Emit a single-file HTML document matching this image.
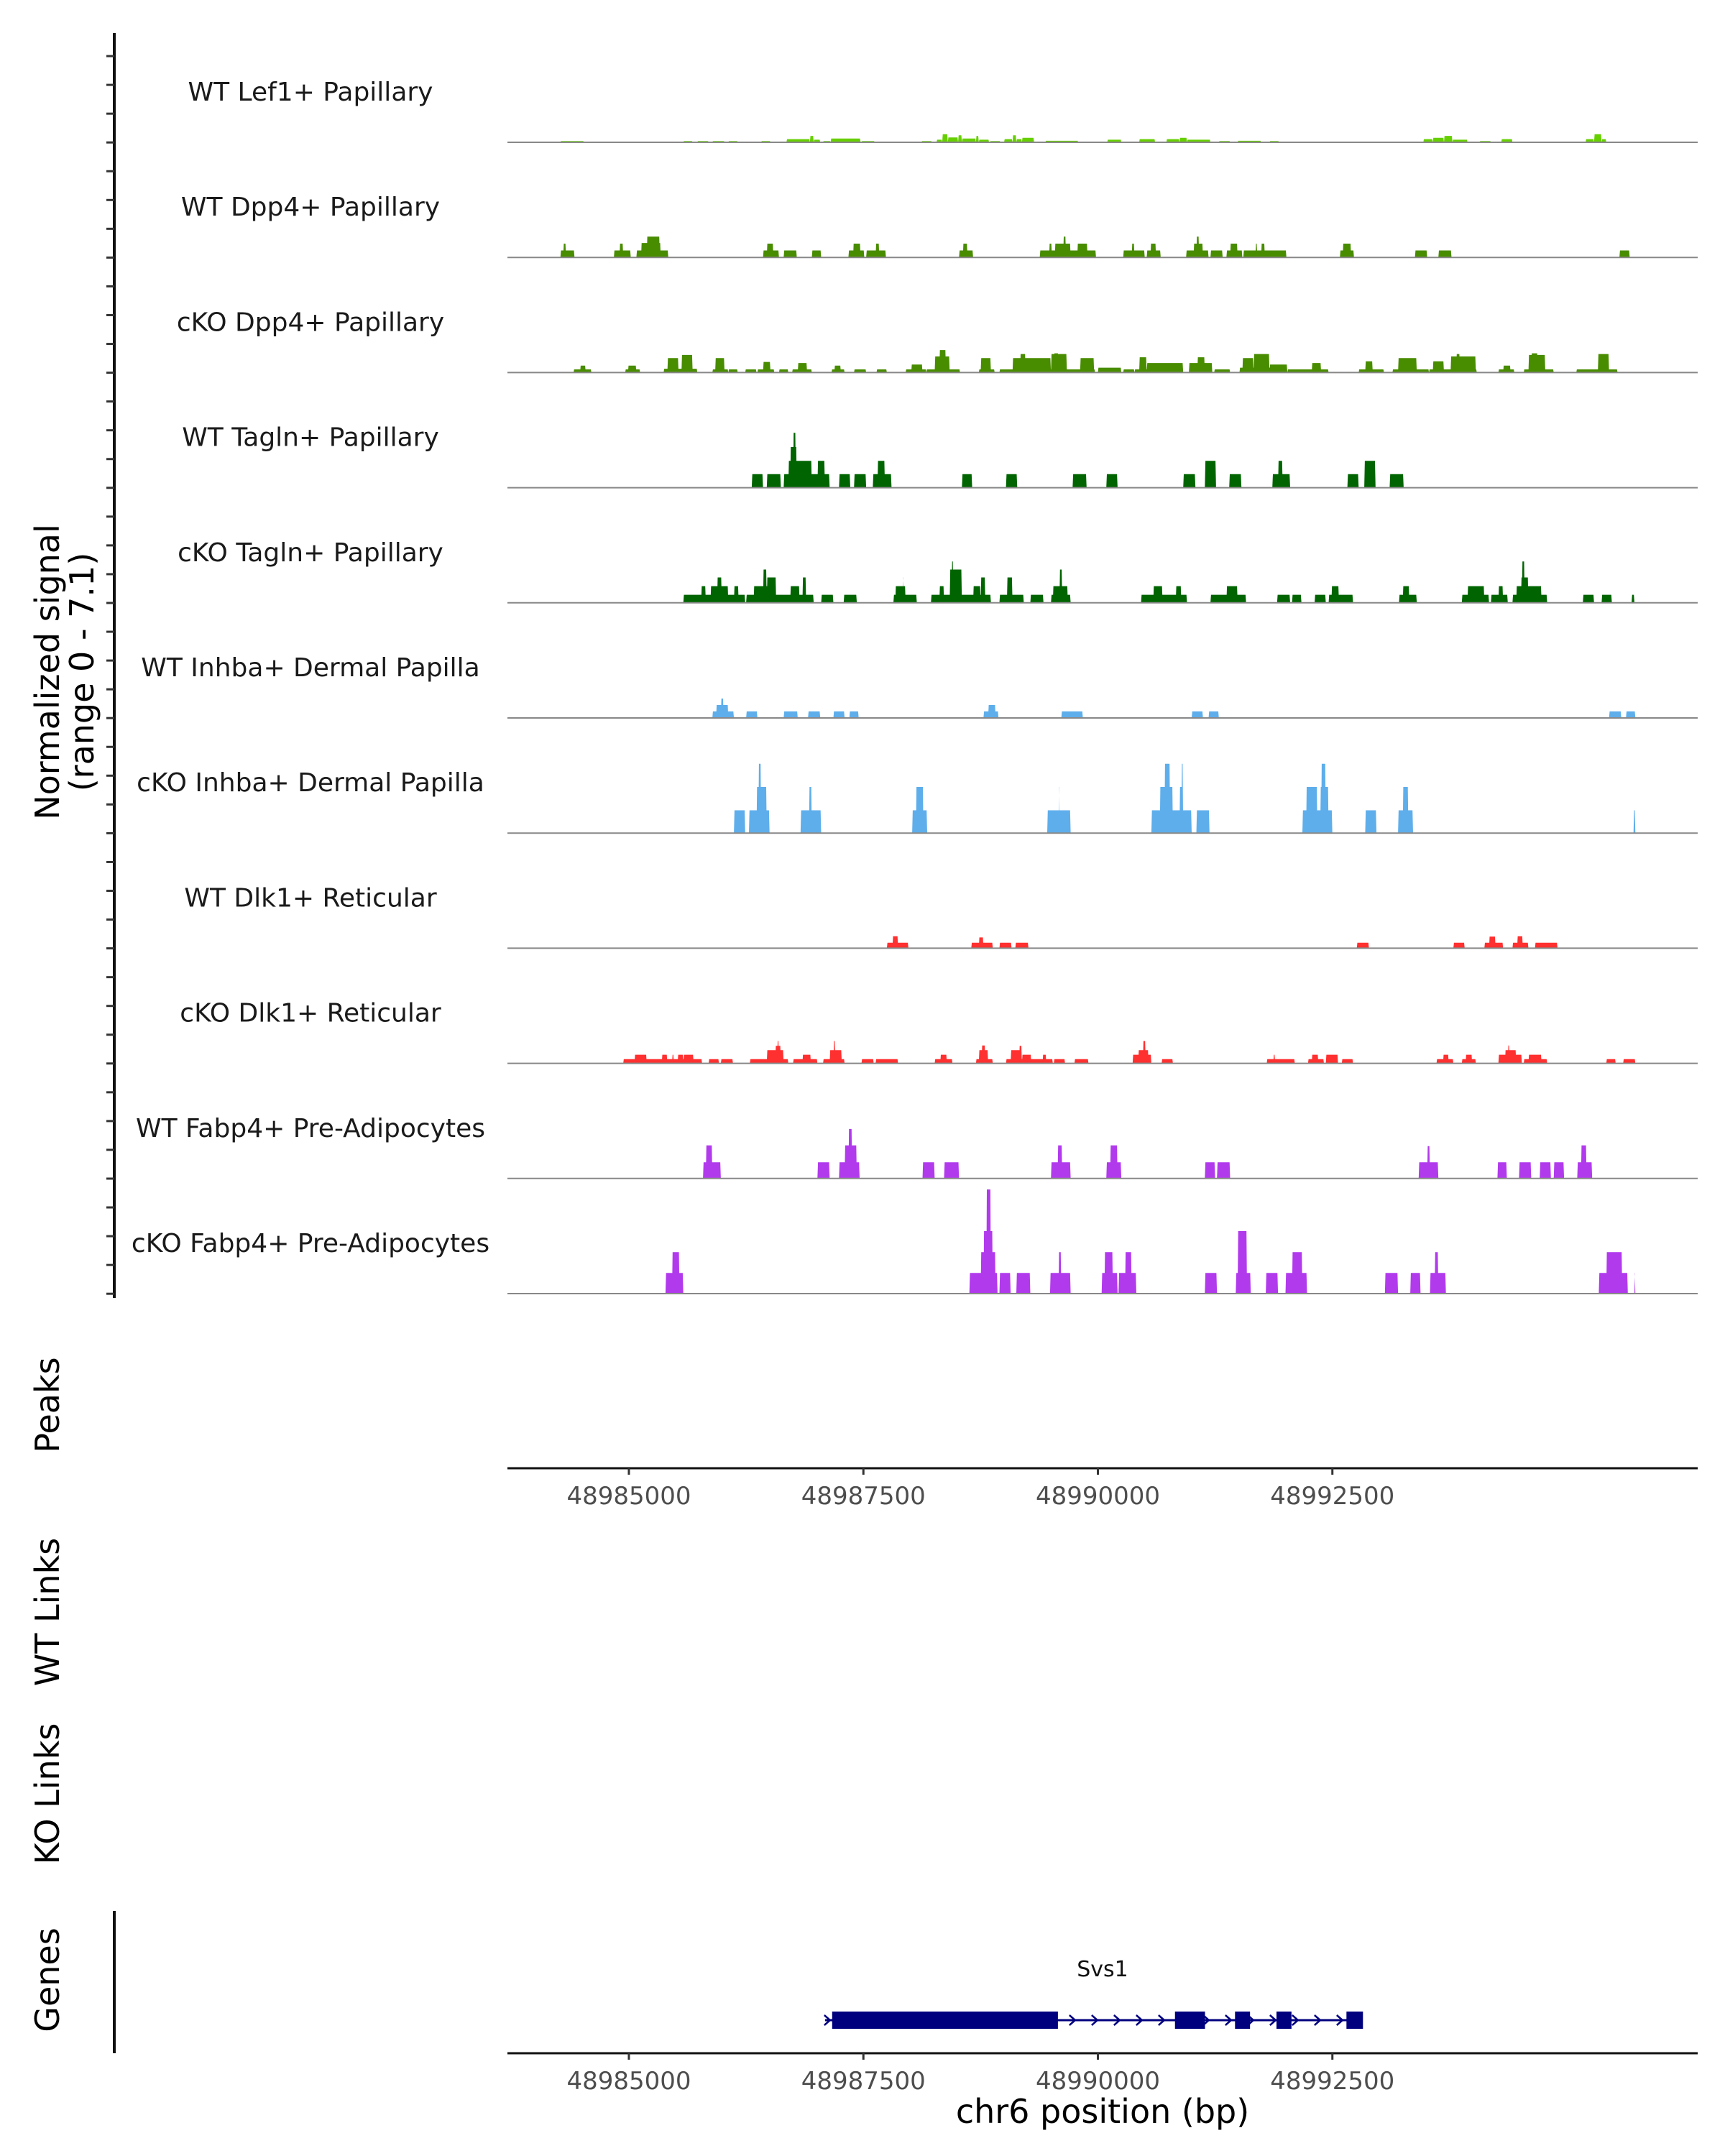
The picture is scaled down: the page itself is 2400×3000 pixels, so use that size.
<!DOCTYPE html>
<html><head><meta charset="utf-8">
<style>
html,body{margin:0;padding:0;background:#fff;}
svg{display:block;font-family:"DejaVu Sans","Liberation Sans",sans-serif;}
</style></head>
<body>
<svg id="fig" width="2400" height="3000" viewBox="0 0 2400 3000" xmlns="http://www.w3.org/2000/svg">
<g id="tracks"></g>
<g id="leftaxis"></g>
<text transform="translate(82,935) rotate(-90)" text-anchor="middle" font-size="46" fill="#000">Normalized signal</text>
<text transform="translate(130,935) rotate(-90)" text-anchor="middle" font-size="46" fill="#000">(range 0 - 7.1)</text>
<text transform="translate(82,1955) rotate(-90)" text-anchor="middle" font-size="46">Peaks</text>
<text transform="translate(82,2243) rotate(-90)" text-anchor="middle" font-size="46">WT Links</text>
<text transform="translate(82,2496) rotate(-90)" text-anchor="middle" font-size="46">KO Links</text>
<text transform="translate(82,2755) rotate(-90)" text-anchor="middle" font-size="46">Genes</text>
<g id="xaxis1"></g>
<g id="genes"></g>
<g id="xaxis2"></g>
<text x="1534" y="2954" text-anchor="middle" font-size="46">chr6 position (bp)</text>
</svg>
<script>
const regionStart = 48983650;
const regionEnd = 48996308;
const yMaxSignal = 7.1;
const trackNames = ["WT Lef1+ Papillary","WT Dpp4+ Papillary","cKO Dpp4+ Papillary","WT Tagln+ Papillary","cKO Tagln+ Papillary","WT Inhba+ Dermal Papilla","cKO Inhba+ Dermal Papilla","WT Dlk1+ Reticular","cKO Dlk1+ Reticular","WT Fabp4+ Pre-Adipocytes","cKO Fabp4+ Pre-Adipocytes"];
const trackColors = ["#66cf00","#488c00","#488c00","#006400","#006400","#5eaeeb","#5eaeeb","#ff3030","#ff3030","#b23aed","#b23aed"];
const xTicks = [48985000,48987500,48990000,48992500];
// blocks: [offset start bp, offset end bp, signal]
const wtLef1 = [[620,870,.08],[1930,2030,.08],[2080,2200,.08],[2240,2370,.08],[2410,2510,.08],[2760,2860,.08],[3030,3280,.21],[3280,3320,.42],[3320,3390,.17],[3420,3500,.08],[3500,3820,.25],[3830,3970,.08],[4470,4580,.08],[4630,4690,.17],[4690,4750,.53],[4750,4860,.32],[4860,4900,.46],[4900,5050,.25],[5050,5080,.42],[5080,5190,.17],[5200,5310,.08],[5350,5440,.21],[5440,5480,.46],[5480,5540,.21],[5540,5670,.3],[5790,6140,.1],[6450,6600,.17],[6790,6960,.21],[7080,7220,.21],[7220,7300,.3],[7300,7550,.17],[7640,7760,.08],[7840,8090,.1],[8180,8280,.08],[9820,9920,.21],[9920,10040,.3],[10040,10130,.42],[10130,10290,.17],[10420,10540,.08],[10650,10770,.21],[11550,11640,.21],[11640,11720,.53],[11720,11770,.21]];
const wtDpp4 = [[620,770,.46],[650,680,.91],[1190,1370,.46],[1250,1290,.91],[1430,1770,.46],[1480,1690,.95],[1540,1680,1.37],[2780,2950,.46],[2820,2890,.91],[3000,3140,.46],[3300,3400,.46],[3690,3860,.46],[3740,3820,.91],[3880,4090,.46],[3980,4020,.91],[4870,5020,.46],[4910,4960,.91],[5730,6330,.46],[5830,5860,.91],[5890,6060,.91],[5980,6010,1.37],[6130,6240,.91],[6620,6850,.46],[6710,6740,.91],[6870,7020,.46],[6910,6970,.91],[7290,7530,.46],[7370,7470,.91],[7400,7430,1.37],[7550,7680,.46],[7720,7890,.46],[7760,7840,.91],[7900,8360,.46],[8030,8050,.91],[8090,8130,.91],[8930,9080,.46],[8960,9050,.91],[9730,9860,.46],[9980,10120,.46],[11910,12020,.46]];
const koDpp4 = [[760,950,.21],[830,890,.46],[1310,1470,.21],[1340,1430,.46],[1720,2080,.25],[1760,1880,.95],[1910,2030,1.16],[2240,2410,.21],[2270,2370,.95],[2410,2510,.21],[2590,2710,.21],[2720,2900,.21],[2780,2860,.7],[2950,3050,.21],[3090,3300,.21],[3150,3250,.63],[3510,3650,.21],[3540,3610,.46],[3750,3880,.21],[3990,4100,.21],[4300,4520,.21],[4360,4480,.53],[4520,4880,.21],[4610,4770,1.06],[4660,4730,1.48],[5080,5250,.21],[5100,5210,.95],[5300,6320,.21],[5440,5850,.95],[5520,5580,1.22],[5850,6020,1.22],[5880,5930,1.27],[6160,6310,.95],[6350,6600,.32],[6620,6740,.21],[6740,7150,.21],[6790,6870,1.01],[6870,7260,.63],[7320,7570,.63],[7410,7490,1.01],[7590,7760,.21],[7860,8370,.32],[7890,8010,.95],[8010,8180,1.22],[8180,8370,.53],[8370,8810,.21],[8630,8730,.63],[9130,9400,.21],[9200,9280,.74],[9490,9880,.21],[9550,9750,.95],[9880,10390,.21],[9920,10040,.74],[10110,10380,1.06],[10170,10210,1.22],[10620,10790,.21],[10670,10750,.46],[10890,11210,.21],[10940,11120,1.16],[10970,11040,1.27],[11450,11890,.21],[11680,11800,1.22]];
const wtTagln = [[2660,2780,.89],[2820,2970,.89],[3000,3490,.89],[3050,3300,1.77],[3070,3140,2.68],[3100,3130,3.61],[3360,3440,1.77],[3590,3710,.89],[3750,3880,.89],[3950,4150,.89],[4000,4080,1.77],[4900,5010,.89],[5370,5490,.89],[6080,6230,.89],[6440,6560,.89],[7260,7390,.89],[7490,7610,1.77],[7750,7880,.89],[8210,8400,.89],[8270,8320,1.77],[9010,9130,.89],[9190,9310,1.77],[9460,9610,.89]];
const koTagln = [[1930,2590,.53],[2120,2170,1.1],[2220,2410,1.1],[2290,2340,1.67],[2470,2520,1.1],[2600,3320,.53],[2680,2860,1.1],[2780,2820,2.19],[2820,2920,1.67],[3070,3170,1.1],[3200,3240,1.67],[3400,3530,.53],[3640,3780,.53],[4170,4420,.53],[4190,4300,1.1],[4270,4280,1.67],[4570,5210,.53],[4660,4710,1.1],[4770,4900,2.19],[4790,4810,2.72],[5020,5100,1.1],[5100,5150,1.67],[5300,5560,.53],[5380,5440,1.67],[5630,5770,.53],[5850,6060,.53],[5870,6030,1.1],[5940,5970,2.19],[6810,7300,.53],[6940,7040,1.1],[7180,7240,1.1],[7550,7930,.53],[7720,7840,1.1],[8260,8400,.53],[8420,8520,.53],[8660,8780,.53],[8810,9070,.53],[8840,8920,1.1],[9560,9750,.53],[9600,9670,1.1],[10230,10520,.53],[10290,10470,1.1],[10540,10720,.53],[10620,10670,1.1],[10770,11140,.53],[10810,11080,1.1],[10860,10940,1.67],[10870,10900,2.72],[11520,11640,.53],[11720,11830,.53],[12040,12070,.53]];
const wtInhba = [[2240,2470,.43],[2280,2410,.85],[2330,2360,1.28],[2600,2720,.43],[3000,3150,.43],[3260,3390,.43],[3530,3650,.43],[3700,3800,.43],[5130,5290,.43],[5180,5260,.85],[5960,6190,.43],[7350,7470,.43],[7530,7640,.43],[11800,11930,.43],[11980,12080,.43]];
const koInhba = [[2470,2590,1.5],[2630,2850,1.5],[2710,2820,3.04],[2730,2760,4.57],[3180,3400,1.5],[3270,3300,3.04],[4370,4530,1.5],[4410,4490,3.04],[5810,6060,1.5],[5930,5940,3.04],[6920,7350,1.5],[7010,7150,3.04],[7060,7120,4.57],[7220,7260,3.04],[7240,7260,4.57],[7400,7540,1.5],[8530,8850,1.5],[8570,8690,3.04],[8720,8810,3.04],[8730,8780,4.57],[9200,9320,1.5],[9550,9710,1.5],[9600,9660,3.04],[12060,12080,1.5]];
const wtDlk1 = [[4100,4330,.36],[4160,4220,.79],[5000,5230,.36],[5080,5130,.71],[5300,5430,.36],[5470,5610,.36],[9110,9240,.36],[10140,10260,.36],[10470,10670,.36],[10520,10590,.76],[10770,10940,.36],[10820,10880,.79],[11010,11250,.36]];
const koDlk1 = [[1290,2130,.28],[1410,1540,.57],[1700,1760,.57],[1810,1830,.57],[1870,1930,.57],[1930,2040,.57],[2200,2310,.28],[2330,2460,.28],[2640,3050,.28],[2820,3000,.87],[2910,2970,1.15],[2930,2950,1.47],[3100,3360,.28],[3200,3290,.57],[3420,3650,.28],[3490,3620,.87],[3530,3550,1.47],[3830,3960,.28],[3980,4220,.28],[4610,4800,.28],[4670,4740,.57],[5050,5230,.28],[5080,5180,.87],[5110,5150,1.18],[5370,5870,.28],[5420,5540,.87],[5510,5540,1.15],[5540,5640,.57],[5760,5800,.57],[5880,6000,.28],[6100,6250,.28],[6720,6920,.57],[6780,6890,.87],[6830,6860,1.47],[7030,7150,.28],[8150,8450,.28],[8220,8240,.57],[8590,8760,.28],[8630,8700,.57],[8780,8910,.57],[8950,9070,.28],[9960,10140,.28],[10030,10090,.57],[10230,10380,.28],[10270,10340,.57],[10620,10870,.57],[10690,10810,.87],[10720,10740,1.18],[10890,11140,.28],[10940,11080,.57],[11770,11870,.28],[11950,12080,.28]];
const wtFabp4 = [[2140,2330,1.07],[2170,2240,2.18],[3360,3490,1.07],[3590,3810,1.07],[3650,3780,2.18],[3690,3730,3.26],[4480,4610,1.07],[4710,4870,1.07],[5850,6060,1.07],[5920,5970,2.18],[6440,6600,1.07],[6480,6560,2.18],[7490,7600,1.07],[7620,7760,1.07],[9770,9980,1.07],[9860,9890,2.13],[10610,10710,1.07],[10840,10970,1.07],[11060,11180,1.07],[11210,11320,1.07],[11460,11620,1.07],[11500,11560,2.18]];
const koFabp4 = [[1740,1930,1.36],[1810,1890,2.73],[4980,5280,1.36],[5100,5260,2.73],[5130,5230,4.12],[5160,5210,6.86],[5300,5420,1.36],[5480,5630,1.36],[5840,6060,1.36],[5930,5960,2.73],[6390,6560,1.36],[6420,6510,2.73],[6570,6760,1.36],[6640,6710,2.73],[7490,7620,1.36],[7820,7980,1.36],[7840,7940,4.12],[8140,8270,1.36],[8350,8580,1.36],[8420,8530,2.73],[9410,9550,1.36],[9680,9790,1.36],[9890,10060,1.36],[9940,9980,2.73],[11690,12000,1.36],[11770,11940,2.73],[12070,12080,1.36]];
const trackData = [wtLef1,wtDpp4,koDpp4,wtTagln,koTagln,wtInhba,koInhba,wtDlk1,koDlk1,wtFabp4,koFabp4];
const geneName = "Svs1";
const geneStart = 48987091, geneEnd = 48992795;
const geneExons = [[48987167,48989574],[48990822,48991142],[48991462,48991622],[48991904,48992064],[48992650,48992826]];

const NS = "http://www.w3.org/2000/svg";
const PL = 706, PR = 2362;
const X0 = 698.8, X1 = 2350.7;
function xs(bp){ return X0 + (bp - regionStart) / (regionEnd - regionStart) * (X1 - X0); }
const trackH = 150;
function ys(v, base){ return base - v / yMaxSignal * trackH; }
function baseOf(i){ return 198 + 160.2 * i; }
function mk(tag, attrs, parent){
  const el = document.createElementNS(NS, tag);
  for (const k in attrs) el.setAttribute(k, attrs[k]);
  parent.appendChild(el); return el;
}
const tracks = document.getElementById('tracks');
trackData.forEach((blocks, i) => {
  const base = baseOf(i);
  const g = mk('g', {}, tracks);
  
  
  let d = '';
  blocks.forEach(b => {
    const xa = xs(regionStart + b[0]), xb = xs(regionStart + b[1]);
    const yt = ys(b[2], base);
    d += 'M' + xa.toFixed(1) + ' ' + base + 'L' + (xa+0.8).toFixed(1) + ' ' + yt.toFixed(1) + 'L' + (xb-0.8).toFixed(1) + ' ' + yt.toFixed(1) + 'L' + xb.toFixed(1) + ' ' + base + 'Z';
  });
  const p = mk('path', {d: d, fill: trackColors[i]}, g);
  
  
  const bl = mk('line', {x1: PL, x2: PR, y1: base, y2: base, stroke: '#888', 'stroke-width': 2}, g);
  
  
  const t = mk('text', {x: 432, y: base - 58, 'text-anchor': 'middle', 'font-size': 36, fill: '#1a1a1a'}, g);
  
  
  t.textContent = trackNames[i];
});
// left axis
const la = document.getElementById('leftaxis');
mk('line', {x1: 159, x2: 159, y1: 46, y2: 1806, stroke: '#111', 'stroke-width': 4}, la);
for (let k = 0; k <= 43; k++) {
  const y = 1800.2 - 40.05 * k;
  const tk = mk('line', {x1: 148, x2: 159, y1: y, y2: y, stroke: '#333', 'stroke-width': 3}, la);
  
  
}
mk('line', {x1: 159, x2: 159, y1: 2659, y2: 2857, stroke: '#111', 'stroke-width': 4}, la);
// x axes
function drawAxis(id, y){
  const g = document.getElementById(id);
  mk('line', {x1: PL, x2: PR, y1: y, y2: y, stroke: '#111', 'stroke-width': 3}, g);
  xTicks.forEach(v => {
    const x = xs(v);
    const tk = mk('line', {x1: x, x2: x, y1: y, y2: y + 9, stroke: '#333', 'stroke-width': 3}, g);
    
    
    const t = mk('text', {x: x, y: y + 50, 'text-anchor': 'middle', 'font-size': 34, fill: '#4d4d4d'}, g);
    
    
    t.textContent = String(v);
  });
}
drawAxis('xaxis1', 2043);
drawAxis('xaxis2', 2857);
// gene
const gg = document.getElementById('genes');
const gy = 2811;
const gl = mk('line', {x1: xs(geneStart), x2: xs(geneEnd), y1: gy, y2: gy, stroke: '#00007f', 'stroke-width': 3}, gg);


for (let x = xs(geneStart) + 4; x < xs(geneEnd); x += 31) {
  const ch = mk('path', {d: 'M' + (x-5) + ' ' + (gy-7) + 'L' + (x+3) + ' ' + gy + 'L' + (x-5) + ' ' + (gy+7), fill: 'none', stroke: '#00007f', 'stroke-width': 2.5}, gg);
  
  
}
geneExons.forEach(e => {
  const r = mk('rect', {x: xs(e[0]), y: gy - 12, width: xs(e[1]) - xs(e[0]), height: 24, fill: '#00007f'}, gg);
  
  
});
const gt = mk('text', {x: 1534, y: 2750, 'text-anchor': 'middle', 'font-size': 30, fill: '#111'}, gg);


gt.textContent = geneName;
</script>
</body></html>
